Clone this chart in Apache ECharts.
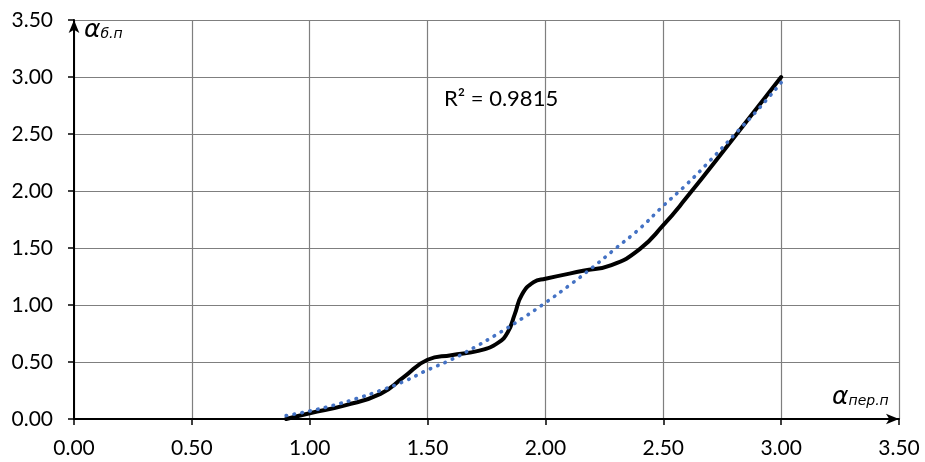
<!DOCTYPE html>
<html>
<head>
<meta charset="utf-8">
<script src="https://cdn.jsdelivr.net/npm/echarts@6/dist/echarts.min.js"></script>
<style>html,body{margin:0;padding:0;background:#fff}#c{width:925px;height:462px}</style>
</head>
<body>
<div id="c"></div>
<script>
// Measured curve (black line)
const curveX = [0.90, 1.00, 1.15, 1.30, 1.40, 1.50, 1.60, 1.72, 1.80, 1.84, 1.87, 1.90, 1.95, 2.00, 2.16, 2.28, 2.40, 2.50, 2.59, 2.80, 3.00];
const curveY = [0.00, 0.05, 0.12, 0.22, 0.37, 0.52, 0.56, 0.60, 0.67, 0.76, 0.92, 1.09, 1.20, 1.23, 1.30, 1.35, 1.49, 1.70, 1.92, 2.47, 3.00];
// Trend line (blue dotted)
const trendX = [0.9, 1.0, 1.1, 1.2, 1.3, 1.4, 1.5, 1.6, 1.7, 1.8, 1.9, 2.0, 2.1, 2.2, 2.3, 2.4, 2.5, 2.6, 2.7, 2.8, 2.9, 3.0];
const trendY = [0.03, 0.07, 0.12, 0.18, 0.25, 0.33, 0.43, 0.52, 0.63, 0.75, 0.88, 1.02, 1.17, 1.33, 1.50, 1.67, 1.87, 2.06, 2.27, 2.49, 2.71, 2.95];
const axisMin = 0, axisMax = 3.5, axisStep = 0.5;
const r2Label = 'R² = 0.9815';

const chart = echarts.init(document.getElementById('c'), null, {renderer: 'canvas'});
const font = 'Lato, "Open Sans", sans-serif';
const gridColor = '#7f7f7f';

function axisCommon() {
  return {
    type: 'value', min: axisMin, max: axisMax, interval: axisStep,
    axisLine: {show: true, onZero: false, lineStyle: {color: '#000', width: 2},
      symbol: ['none', 'arrow'], symbolSize: [8, 13], symbolOffset: [0, 0]},
    axisTick: {show: true, inside: false, length: 6, lineStyle: {color: '#000', width: 1.5}},
    splitLine: {show: true, lineStyle: {color: gridColor, width: 1.2}},
    axisLabel: {color: '#000', fontSize: 21, fontFamily: font, formatter: v => v.toFixed(2)}
  };
}

const xAxis = axisCommon();
xAxis.axisLabel.margin = 19;
const yAxis = axisCommon();
yAxis.axisLabel.margin = 21;

chart.setOption({
  animation: false,
  backgroundColor: '#fff',
  grid: {left: 74, right: 26, top: 20, bottom: 43, containLabel: false},
  xAxis: xAxis,
  yAxis: yAxis,
  series: [
    {
      type: 'line', name: 'trend', smooth: true, symbol: 'none',
      data: trendX.map((x, i) => [x, trendY[i]]),
      lineStyle: {color: '#4472C4', width: 3.6, type: [0.5, 7.5], cap: 'round'},
      z: 3
    },
    {
      type: 'line', name: 'curve', smooth: 0.5, symbol: 'none',
      data: curveX.map((x, i) => [x, curveY[i]]),
      lineStyle: {color: '#000', width: 4, cap: 'round', join: 'round'},
      z: 2
    }
  ],
  graphic: [
    {
      type: 'text', left: 444, top: 88, z: 10,
      style: {text: r2Label, fill: '#000', font: '22px ' + font}
    },
    {
      type: 'text', left: 84, top: 18, z: 10,
      style: {
        text: '{a|α}{s|б.п}',
        rich: {
          a: {fontSize: 25, fontStyle: 'italic', fontFamily: '"DejaVu Sans"', fill: '#000', verticalAlign: 'bottom'},
          s: {fontSize: 14, fontStyle: 'italic', fontFamily: '"DejaVu Sans"', fill: '#000', verticalAlign: 'bottom', padding: [0, 0, 2, 0]}
        }
      }
    },
    {
      type: 'text', left: 832, top: 385, z: 10,
      style: {
        text: '{a|α}{s|пер.п}',
        rich: {
          a: {fontSize: 25, fontStyle: 'italic', fontFamily: '"DejaVu Sans"', fill: '#000', verticalAlign: 'bottom'},
          s: {fontSize: 14, fontStyle: 'italic', fontFamily: '"DejaVu Sans"', fill: '#000', verticalAlign: 'bottom', padding: [0, 0, 2, 0]}
        }
      }
    }
  ]
});
</script>
</body>
</html>
